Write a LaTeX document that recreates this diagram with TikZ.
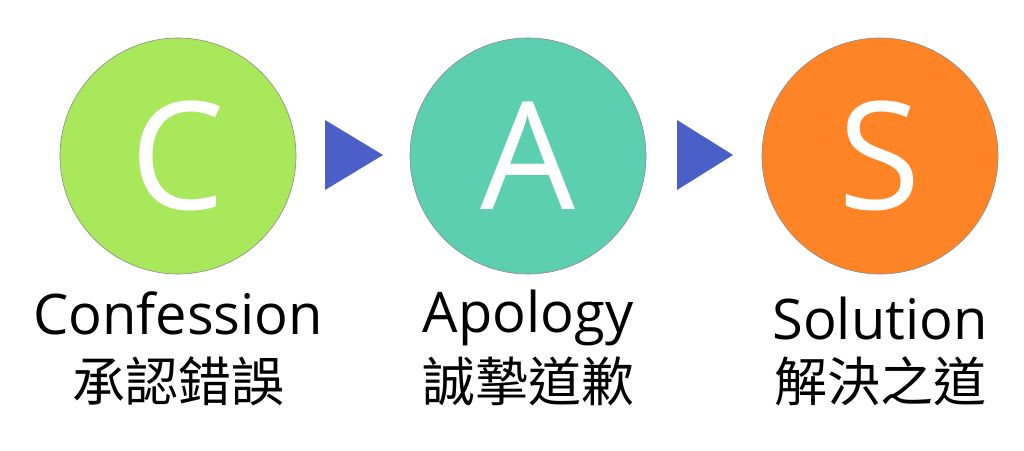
\documentclass[tikz,border=0pt]{standalone}
\usepackage{fontspec}
\setmainfont{Open Sans}
\newfontfamily\cjk{Noto Sans CJK TC}
\definecolor{cgreen}{HTML}{A8E85A}
\definecolor{ateal}{HTML}{5CCFB0}
\definecolor{sorange}{HTML}{FF8426}
\definecolor{tblue}{HTML}{4A5FC8}
\begin{document}
\begin{tikzpicture}[x=1pt,y=-1pt,
    ball/.style={circle,draw=black!45,line width=0.6pt,minimum size=236pt,inner sep=0pt,
      text=white,font=\fontsize{150}{150}\selectfont},
    word/.style={font=\fontsize{56}{56}\selectfont,inner sep=0pt},
    han/.style={font=\cjk\fontsize{53}{53}\selectfont,inner sep=0pt}]
  \useasboundingbox (0,0) rectangle (1024,450);

  % Circles
  \node[ball,fill=cgreen] (c) at (178,156) {C};
  \node[ball,fill=ateal] (a) at (528,156) {A};
  \node[ball,fill=sorange] (s) at (880,156) {S};

  % Arrows
  \fill[tblue] (325,120) -- (383,155) -- (325,190) -- cycle;
  \fill[tblue] (677,120) -- (733,155) -- (677,190) -- cycle;

  % Labels
  \node[word] (cw) at (178,313) {Confession};
  \node[han] (ch) at (178,381) {承認錯誤};
  \node[word] (aw) at (528,318) {Apology};
  \node[han] (ah) at (528,381) {誠摯道歉};
  \node[word] (sw) at (880,318) {Solution};
  \node[han] (sh) at (880,381) {解決之道};
\end{tikzpicture}
\end{document}
